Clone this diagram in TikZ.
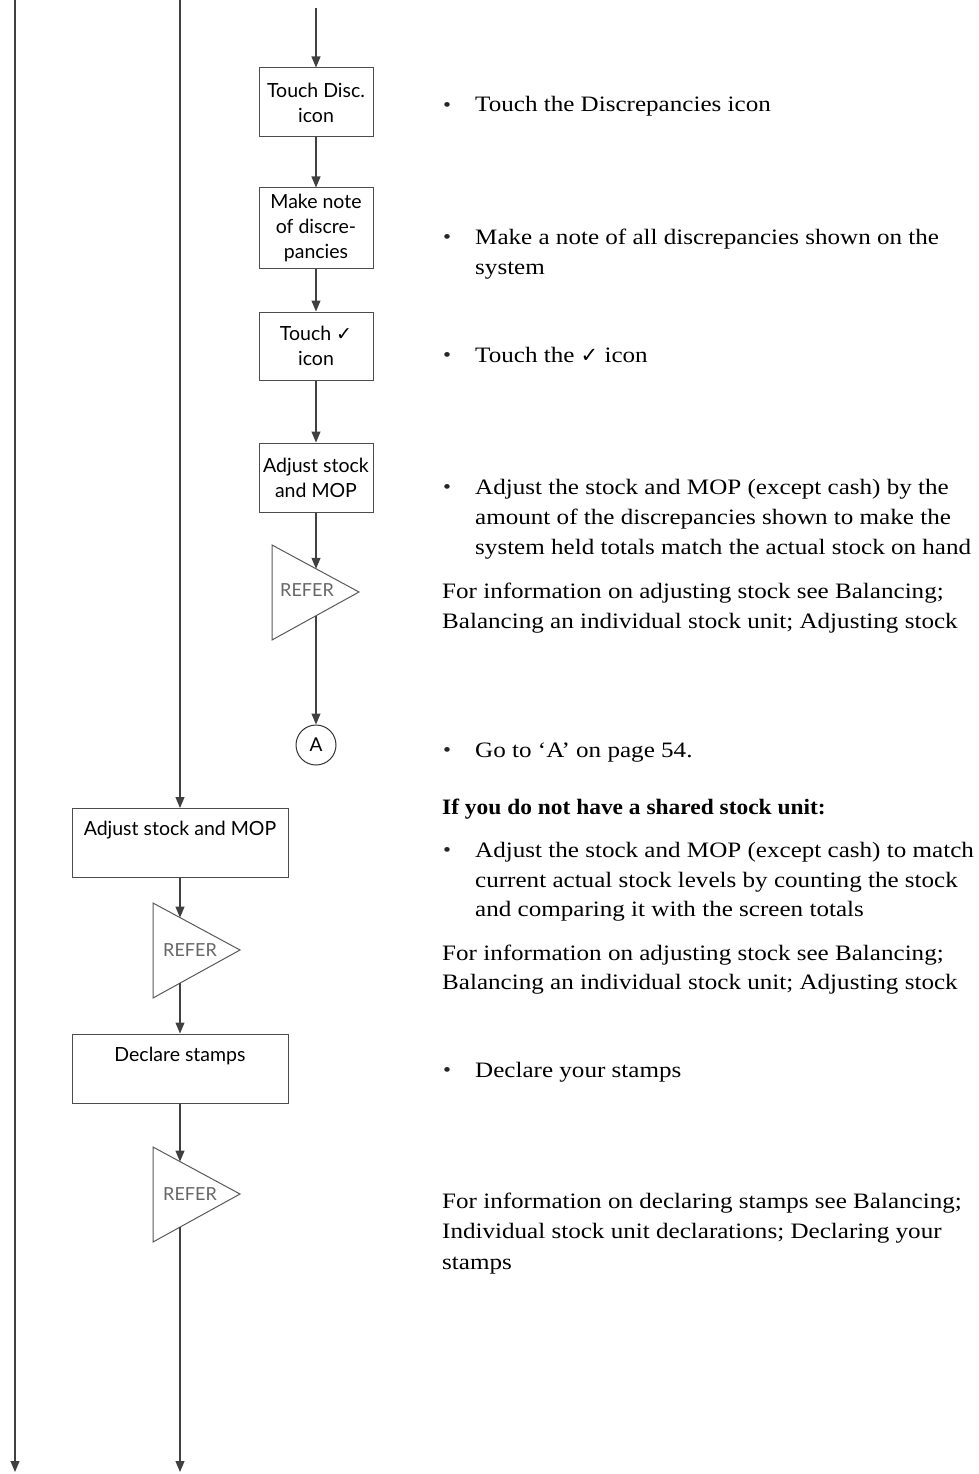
\documentclass[tikz,border=0pt]{standalone}
\usepackage{fontspec}
\setmainfont[FakeStretch=1.14, BoldFeatures={FakeStretch=1.065}]{Liberation Serif}
\setsansfont{Lato}
\newfontfamily\symfont{DejaVu Sans}
\usetikzlibrary{arrows.meta}
\begin{document}
\begin{tikzpicture}[x=1pt,y=-1pt,
  flow/.style={draw=black!75, line width=1.1pt},
  arr/.style={flow,-{Triangle[width=9pt,length=11pt]}},
  sbox/.style={draw=black!70, line width=1pt, rectangle, inner sep=0pt, font=\sffamily\fontsize{19.5}{25}\selectfont, align=center},
  bigbox/.style={draw=black!70, line width=1pt, rectangle, inner sep=0pt, minimum width=216pt, minimum height=69pt},
  boxtext/.style={inner sep=0pt, font=\sffamily\fontsize{19.5}{25}\selectfont},
  refer/.style={draw=black!65, line width=1pt},
  refertext/.style={inner sep=0pt, font=\sffamily\fontsize{18}{18}\selectfont, text=black!60},
  conn/.style={draw=black!80, line width=1pt, circle, minimum size=40pt, inner sep=0pt, font=\sffamily\fontsize{19}{19}\selectfont},
  body/.style={anchor=base west, inner sep=0pt, font=\fontsize{22}{22}\selectfont},
  bul/.style={inner sep=0pt, font=\fontsize{20}{20}\selectfont, text=black!85}]
\useasboundingbox (0,0) rectangle (978,1474);

% left-most line
\coordinate (l0) at (15,0);
\coordinate (l1) at (15,1472);
\draw[arr] (l0) -- (l1);

% left column
\coordinate (c0) at (180,0);
\node[bigbox] (adj2) at (180,843) {};
\node[boxtext] (adj2t) at (180,830) {Adjust stock and MOP};
\draw[arr] (c0) -- (adj2.north);

\draw[refer] (153,903) -- (240,950) -- (153,998) -- cycle;
\node[refertext] (r2) at (190,950) {REFER};
\coordinate (r2in) at (180,917.6);
\coordinate (r2out) at (180,983.4);
\draw[arr] (adj2.south) -- (r2in);

\node[bigbox] (decl) at (180,1068.5) {};
\node[boxtext] (declt) at (180,1056) {Declare stamps};
\draw[arr] (r2out) -- (decl.north);

\draw[refer] (153,1147) -- (240,1194) -- (153,1242) -- cycle;
\node[refertext] (r3) at (190,1194) {REFER};
\coordinate (r3in) at (180,1161.6);
\coordinate (r3out) at (180,1227.4);
\coordinate (c1) at (180,1472);
\draw[arr] (decl.south) -- (r3in);
\draw[arr] (r3out) -- (c1);

% middle column
\coordinate (m0) at (316,8);
\node[sbox, minimum width=114pt, minimum height=69pt] (b1) at (316,102.5) {Touch Disc.\\icon};
\node[sbox, minimum width=114pt, minimum height=80pt] (b2) at (316,228) {Make note\\of discre-\\pancies};
\node[sbox, minimum width=114pt, minimum height=68pt] (b3) at (316,346) {Touch {\symfont\bfseries\fontsize{19}{19}\selectfont ✓}\\icon};
\node[sbox, minimum width=114pt, minimum height=69pt] (b4) at (316,477.5) {Adjust stock\\and MOP};
\draw[arr] (m0) -- (b1.north);
\draw[arr] (b1.south) -- (b2.north);
\draw[arr] (b2.south) -- (b3.north);
\draw[arr] (b3.south) -- (b4.north);

\draw[refer] (272,545) -- (359,592) -- (272,640) -- cycle;
\node[refertext] (r1) at (307,590) {REFER};
\coordinate (r1in) at (316,568.8);
\coordinate (r1out) at (316,616.2);
\draw[arr] (b4.south) -- (r1in);
\node[conn] (A) at (316,745) {A};
\draw[arr] (r1out) -- (A.north);

% right-hand text
\node[bul] (d1) at (447,107) {•};
\node[body] (t1) at (475,112) {Touch the Discrepancies icon};

\node[bul] (d2) at (447,239) {•};
\node[body] (t2a) at (475,244) {Make a note of all discrepancies shown on the};
\node[body] (t2b) at (475,274) {system};

\node[bul] (d3) at (447,357) {•};
\node[body] (t3) at (475,362) {Touch the {\symfont\bfseries\fontsize{21}{21}\selectfont ✓} icon};

\node[bul] (d4) at (447,489) {•};
\node[body] (t4a) at (475,494) {Adjust the stock and MOP (except cash) by the};
\node[body] (t4b) at (475,524) {amount of the discrepancies shown to make the};
\node[body] (t4c) at (475,554) {system held totals match the actual stock on hand};
\node[body] (t5a) at (442,598) {For information on adjusting stock see Balancing;};
\node[body] (t5b) at (442,628) {Balancing an individual stock unit; Adjusting stock};

\node[bul] (d6) at (447,752) {•};
\node[body] (t6) at (475,757) {Go to ‘A’ on page 54.};

\node[body, font=\bfseries\fontsize{22}{22}\selectfont] (t7) at (442,814) {If you do not have a shared stock unit:};

\node[bul] (d8) at (447,852) {•};
\node[body] (t8a) at (475,857) {Adjust the stock and MOP (except cash) to match};
\node[body] (t8b) at (475,887) {current actual stock levels by counting the stock};
\node[body] (t8c) at (475,916) {and comparing it with the screen totals};
\node[body] (t9a) at (442,960) {For information on adjusting stock see Balancing;};
\node[body] (t9b) at (442,989) {Balancing an individual stock unit; Adjusting stock};

\node[bul] (d10) at (447,1072) {•};
\node[body] (t10) at (475,1077) {Declare your stamps};

\node[body] (t11a) at (442,1208) {For information on declaring stamps see Balancing;};
\node[body] (t11b) at (442,1238) {Individual stock unit declarations; Declaring your};
\node[body] (t11c) at (442,1269) {stamps};
\end{tikzpicture}
\end{document}
